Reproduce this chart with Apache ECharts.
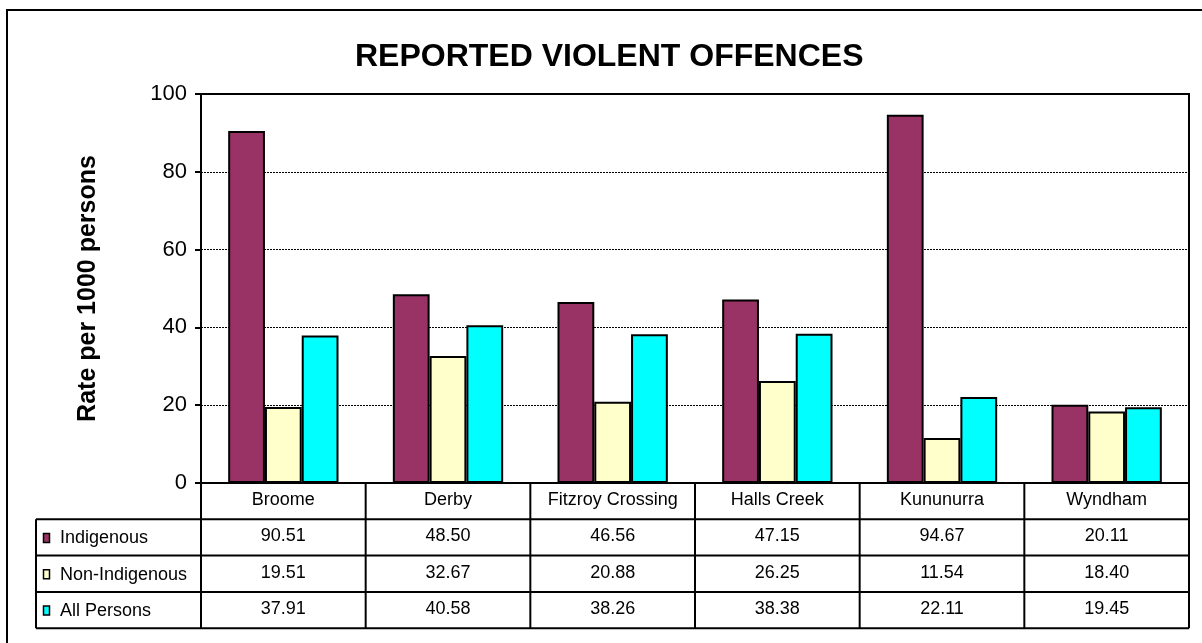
<!DOCTYPE html>
<html>
<head>
<meta charset="utf-8">
<script src="https://cdn.jsdelivr.net/npm/echarts@6/dist/echarts.min.js"></script>
<style>html,body{margin:0;padding:0;background:#fff}#chart{width:1202px;height:643px}</style>
</head>
<body>
<div id="chart"></div>
<script>
// ---- data ----
const categories = ['Broome', 'Derby', 'Fitzroy Crossing', 'Halls Creek', 'Kununurra', 'Wyndham'];
const seriesNames = ['Indigenous', 'Non-Indigenous', 'All Persons'];
const indigenous = [90.51, 48.50, 46.56, 47.15, 94.67, 20.11];
const nonIndigenous = [19.51, 32.67, 20.88, 26.25, 11.54, 18.40];
const allPersons = [37.91, 40.58, 38.26, 38.38, 22.11, 19.45];
const yTicks = [0, 20, 40, 60, 80, 100];
const titleText = 'REPORTED VIOLENT OFFENCES';
const yAxisTitle = 'Rate per 1000 persons';

// ---- style ----
const colors = ['#993366', '#FFFFCC', '#00FFFF'];
const FONT = '"Liberation Sans", Arial, sans-serif';
const seriesValues = [indigenous, nonIndigenous, allPersons];
const G = { left: 201, right: 13, top: 94, bottom: 160 };
const ROW_H = 36.3;

const chart = echarts.init(document.getElementById('chart'), null, { renderer: 'canvas' });

const fmt = v => v.toFixed(2);

const option = {
  backgroundColor: '#fff',
  animation: false,
  title: {
    text: titleText,
    left: 350,
    top: 36,
    textStyle: { fontFamily: FONT, fontSize: 32, fontWeight: 'bold', color: '#000' }
  },
  grid: {
    left: G.left, right: G.right, top: G.top, bottom: G.bottom,
    show: true, borderColor: '#000', borderWidth: 2, backgroundColor: '#fff'
  },
  xAxis: {
    type: 'category',
    data: categories,
    axisLine: { show: true, lineStyle: { color: '#000', width: 2 } },
    axisTick: { show: false },
    axisLabel: {
      margin: -1,
      interval: 0,
      fontFamily: FONT,
      fontSize: 18,
      color: '#000',
      lineHeight: ROW_H,
      formatter: (value, idx) => [value].concat(seriesValues.map(s => fmt(s[idx]))).join('\n')
    }
  },
  yAxis: {
    type: 'value',
    min: yTicks[0],
    max: yTicks[yTicks.length - 1],
    interval: yTicks[1] - yTicks[0],
    name: yAxisTitle,
    nameLocation: 'middle',
    nameGap: 100,
    nameTextStyle: { fontFamily: FONT, fontSize: 25, fontWeight: 'bold', color: '#000' },
    axisLine: { show: true, lineStyle: { color: '#000', width: 2 } },
    axisTick: { show: true, length: 6, lineStyle: { color: '#000', width: 2 } },
    axisLabel: { margin: 14, fontFamily: FONT, fontSize: 22, color: '#000' },
    splitLine: { show: true, lineStyle: { color: '#000', width: 1, type: [2, 1] } }
  },
  series: seriesNames.map((name, i) => ({
    name: name,
    type: 'bar',
    data: seriesValues[i],
    barGap: '0%',
    barCategoryGap: '33%',
    itemStyle: { color: colors[i], borderColor: '#000', borderWidth: 2 }
  }))
};

chart.setOption(option);

// ---- data table lines and legend keys ----
function buildTable() {
  const x0 = chart.convertToPixel({ xAxisIndex: 0 }, 0);
  const x1 = chart.convertToPixel({ xAxisIndex: 0 }, 1);
  const band = x1 - x0;
  const yZero = chart.convertToPixel({ yAxisIndex: 0 }, 0);
  const yTop = chart.convertToPixel({ yAxisIndex: 0 }, yTicks[yTicks.length - 1]);
  const leftEdge = x0 - band / 2;
  const rightEdge = leftEdge + band * categories.length;
  const legendLeft = 36;
  const nRows = seriesNames.length + 1;
  const bottomY = yZero + ROW_H * nRows;
  const line = (xa, ya, xb, yb) => ({
    type: 'line', shape: { x1: xa, y1: ya, x2: xb, y2: yb },
    style: { stroke: '#000', lineWidth: 2 }, z: 10
  });
  const els = [];
  // outer frame (left and top edges visible)
  els.push({ type: 'rect', shape: { x: 7, y: 10, width: 1240, height: 680 }, style: { fill: null, stroke: '#000', lineWidth: 2 }, z: 0 });
  // vertical column lines
  for (let i = 0; i <= categories.length; i++) {
    const x = leftEdge + band * i;
    els.push(line(x, i === 0 || i === categories.length ? (i === 0 ? yZero : yTop) : yZero, x, bottomY));
  }
  els.push(line(legendLeft, yZero + ROW_H, legendLeft, bottomY));
  // horizontal row lines
  for (let r = 1; r <= nRows; r++) {
    const y = yZero + ROW_H * r;
    els.push(line(legendLeft, y, rightEdge, y));
  }
  // legend keys + names
  seriesNames.forEach((name, i) => {
    const cy = yZero + ROW_H * (i + 1.5);
    els.push({ type: 'rect', shape: { x: 43.5, y: cy - 4, width: 6, height: 9 }, style: { fill: colors[i], stroke: '#000', lineWidth: 1.5 }, z: 10 });
    els.push({ type: 'text', x: 60, y: cy + 1, style: { text: name, fontFamily: FONT, fontSize: 18, fill: '#000', textVerticalAlign: 'middle', textAlign: 'left' }, z: 10 });
  });
  chart.setOption({ graphic: { elements: els } });
}
buildTable();
</script>
</body>
</html>
